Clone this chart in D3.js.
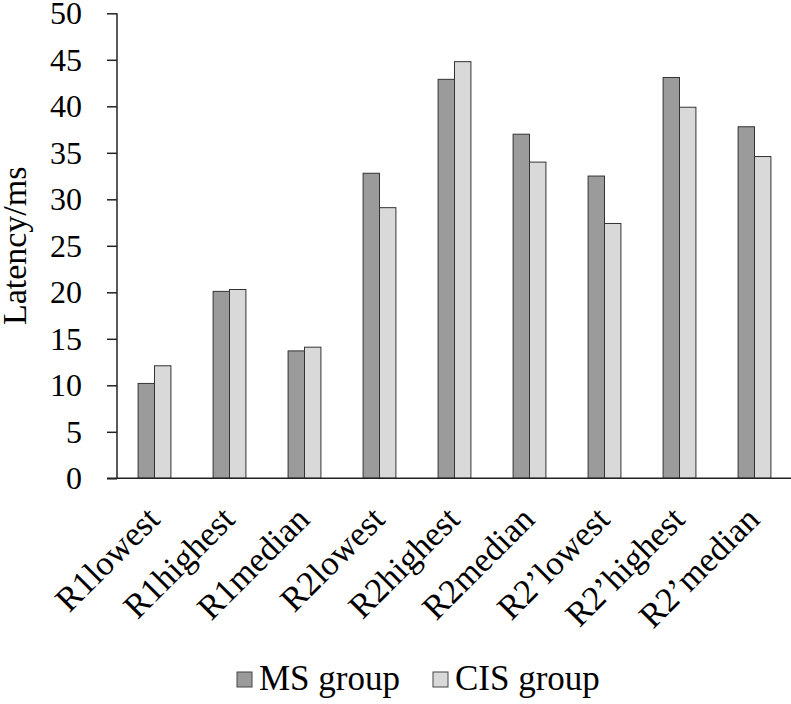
<!DOCTYPE html>
<html>
<head>
<meta charset="utf-8">
<script src="https://cdn.jsdelivr.net/npm/d3@7/dist/d3.min.js"></script>
<style>
  html, body { margin: 0; padding: 0; background: #fff; }
  svg { display: block; }
  text { font-family: "Liberation Serif", "Times New Roman", serif; fill: #000; }
</style>
</head>
<body>
<svg id="chart" width="791" height="704"></svg>
<script>
const categories = ["R1lowest", "R1highest", "R1median", "R2lowest", "R2highest", "R2median", "R2\u2019lowest", "R2\u2019highest", "R2\u2019median"];
const seriesNames = ["MS group", "CIS group"];
const msValues  = [10.2, 20.1, 13.7, 32.8, 42.9, 37.0, 32.5, 43.1, 37.8];
const cisValues = [12.1, 20.3, 14.1, 29.1, 44.8, 34.0, 27.4, 39.9, 34.6];
const yTicks = [0, 5, 10, 15, 20, 25, 30, 35, 40, 45, 50];
const yTitle = "Latency/ms";
const colors = ["#9b9b9b", "#d9d9d9"];

const svg = d3.select("#chart");
const mLeft = 117, mRight = 792, mTop = 13.3, mBottom = 478.3;

const x0 = d3.scaleBand().domain(categories).range([mLeft, mRight])
  .paddingInner(0.5625).paddingOuter(0.28125);
const x1 = d3.scaleBand().domain(seriesNames).range([0, x0.bandwidth()]);
const y = d3.scaleLinear().domain([0, 50]).range([mBottom, mTop]);

const data = categories.map((c, i) => ({cat: c, vals: [msValues[i], cisValues[i]]}));

// bars
const g = svg.append("g");
g.selectAll("g.grp").data(data).join("g")
  .attr("class", "grp")
  .attr("transform", d => `translate(${x0(d.cat)},0)`)
  .selectAll("rect").data(d => d.vals.map((v, j) => ({s: seriesNames[j], v, j})))
  .join("rect")
  .attr("x", d => x1(d.s))
  .attr("width", x1.bandwidth())
  .attr("y", d => y(d.v))
  .attr("height", d => y(0) - y(d.v))
  .attr("fill", d => colors[d.j])
  .attr("stroke", "#333")
  .attr("stroke-width", 1);

// y axis
const yAxis = d3.axisLeft(y).tickValues(yTicks).tickSize(10).tickPadding(25).tickFormat(d3.format("d"));
const ya = svg.append("g").attr("transform", `translate(${mLeft},0)`).call(yAxis);
ya.select(".domain").attr("stroke", "#222").attr("stroke-width", 1.5).attr("d", `M0,${mTop}V${mBottom}`);
ya.selectAll(".tick line").attr("stroke", "#222").attr("stroke-width", 1.5);
ya.selectAll(".tick text").style("font-family", '"Liberation Serif", serif').style("font-size", "32px").attr("fill", "#000");

// x axis
const xAxis = d3.axisBottom(x0).tickSize(0).tickPadding(0);
const xa = svg.append("g").attr("transform", `translate(0,${mBottom})`).call(xAxis);
xa.select(".domain").attr("stroke", "#222").attr("stroke-width", 1.5).attr("d", `M${mLeft - 10},0H${mRight}`);
xa.selectAll(".tick text")
  .style("font-family", '"Liberation Serif", serif').style("font-size", "34.5px")
  .attr("fill", "#000")
  .attr("text-anchor", "end")
  .attr("dy", 0)
  .attr("transform", "translate(7,43) rotate(-45)")
  .attr("y", 0).attr("x", 0);

// y title
svg.append("text")
  .attr("transform", `translate(26,${(mTop + mBottom) / 2}) rotate(-90)`)
  .attr("text-anchor", "middle")
  .style("font-size", "34px")
  .text(yTitle);

// legend
const legendX = [237, 433];
const lg = svg.append("g");
seriesNames.forEach((s, i) => {
  lg.append("rect").attr("x", legendX[i]).attr("y", 672).attr("width", 15).attr("height", 15)
    .attr("fill", colors[i]).attr("stroke", "#444").attr("stroke-width", 1);
  lg.append("text").attr("x", legendX[i] + 22).attr("y", 690).style("font-size", "35px").text(s);
});
</script>
</body>
</html>
